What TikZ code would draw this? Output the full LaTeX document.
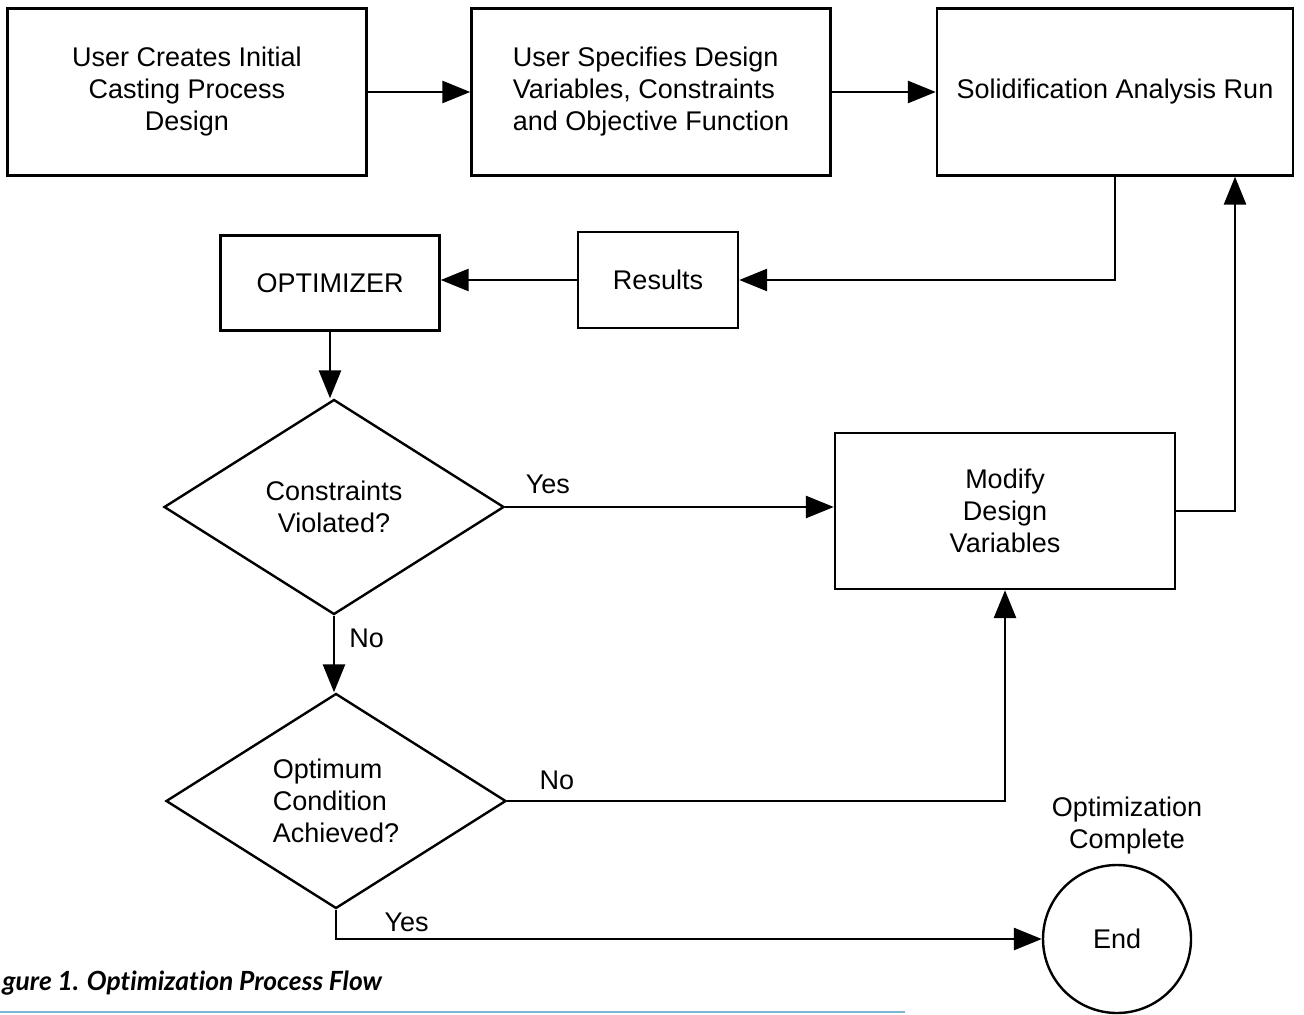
\documentclass[tikz,border=0pt]{standalone}
\usepackage{fontspec}
\setmainfont{Liberation Sans}
\newfontfamily\capfont[Ligatures={NoCommon}]{Lato}
\usetikzlibrary{arrows.meta,shapes.geometric,positioning}

\begin{document}
\begin{tikzpicture}[x=0.5pt,y=-0.5pt,->,>={Triangle[length=14pt,width=11pt]},
                    line width=1.4pt,node distance=232pt,
                    font=\fontsize{13.5}{16}\selectfont]
  \tikzstyle{block}=[draw,rectangle,align=center,inner sep=0pt,line width=1.2pt]
  \tikzstyle{decision}=[draw,diamond,align=center,inner sep=0pt,line width=1.2pt,
                        minimum width=170pt,minimum height=107.5pt]
  \tikzstyle{stop}=[draw,circle,inner sep=0pt,line width=1.2pt,minimum size=74pt]
  \tikzstyle{lbl}=[inner sep=1pt]

  \useasboundingbox (0,0) rectangle (1304,1015);

  \node[block,minimum width=179.5pt,minimum height=83.5pt] (create) at (187,92)
       {User Creates Initial\\Casting Process\\Design};
  \node[block,minimum width=179.5pt,minimum height=83.5pt,align=left] (specify)
       [right of=create] {User Specifies Design\\Variables, Constraints\\and Objective Function};
  \node[block,minimum width=178pt,minimum height=83.5pt] (solid) [right of=specify]
       {Solidification Analysis Run};
  \node[block,minimum width=80pt,minimum height=48pt] (results) at (658,280) {Results};
  \node[block,minimum width=109.5pt,minimum height=47.5pt] (opt) at (330,283) {OPTIMIZER};
  \node[decision] (d1) at (334,507) {Constraints\\Violated?};
  \node[decision,align=left] (d2) at (336,801) {Optimum\\Condition\\Achieved?};
  \node[block,minimum width=170pt,minimum height=78pt] (modify) at (1005,511)
       {Modify\\Design\\Variables};
  \node[stop] (end) at (1117,939) {End};
  \node[lbl,align=center] (done) [above=3pt of end,xshift=5pt] {Optimization\\Complete};

  \path (create) edge (specify)
        (specify) edge (solid)
        (results.west) edge (results.west -| opt.east)
        (opt.south) edge (opt.south |- d1.north)
        (d1.south) edge node[lbl,right=6pt,pos=0.3] {No} (d1.south |- d2.north)
        (d1.east) edge node[lbl,above=5pt,pos=0.13] {Yes} (d1.east -| modify.west);

  \draw (solid) |- (results);
  \draw (modify) -| ([xshift=60pt]solid.south);
  \draw (d2) -| node[lbl,above=4pt,pos=0.05] {No} (modify);
  \draw (d2) |- node[lbl,above=2pt,pos=0.55] {Yes} (end);

  % caption and rule
  \node[anchor=west,inner sep=0pt,font=\capfont\bfseries\itshape\fontsize{13.2}{15}\selectfont]
       (caption) at (1,983) {gure 1. Optimization Process Flow};
  \draw[-,line width=1pt,color={rgb,255:red,125;green,182;blue,212}] (0,1012) -- (905,1012);
\end{tikzpicture}
\end{document}
